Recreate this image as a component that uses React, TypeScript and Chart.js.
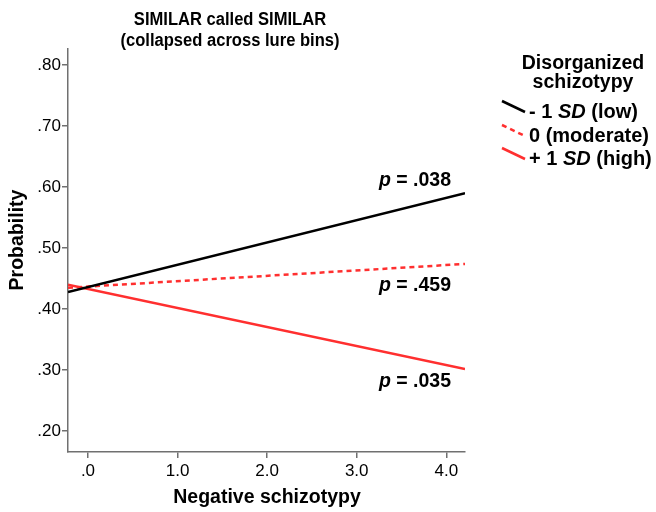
import React, { useEffect, useRef } from "react";
import { Chart, registerables } from "chart.js";

Chart.register(...registerables);

// ---- data ----
const titleLines = ["SIMILAR called SIMILAR", "(collapsed across lure bins)"];
const xAxisTitle = "Negative schizotypy";
const yAxisTitle = "Probability";
const legendTitle = ["Disorganized", "schizotypy"];

const xMin = -0.223;
const xMax = 4.209;
const yMin = 0.166;
const yMax = 0.826;

// fitted lines, evaluated at the two ends of the x axis
const xEnds = [-0.223, 4.209];
const lowSD = [0.428, 0.59];
const moderate = [0.435, 0.474];
const highSD = [0.44, 0.302];

const seriesNames = ["low", "moderate", "high"];
const pLabels = [".038", ".459", ".035"];
const pLabelX = [3.65, 3.65, 3.65];
const pLabelY = [0.61, 0.438, 0.2815];

const RED = "#ff2f2f";
const FONT = "'Liberation Sans', Arial, sans-serif";

function pts(ys: number[]) {
  return xEnds.map((x, i) => ({ x, y: ys[i] }));
}

function drawSegs(ctx: CanvasRenderingContext2D, x: number, y: number, segs: [string, boolean][], size: number) {
  let cx = x;
  for (const [t, it] of segs) {
    ctx.font = `${it ? "italic " : ""}bold ${size}px ${FONT}`;
    ctx.fillText(t, cx, y);
    cx += ctx.measureText(t).width;
  }
}

function segsWidth(ctx: CanvasRenderingContext2D, segs: [string, boolean][], size: number) {
  let w = 0;
  for (const [t, it] of segs) {
    ctx.font = `${it ? "italic " : ""}bold ${size}px ${FONT}`;
    w += ctx.measureText(t).width;
  }
  return w;
}

const overlay = {
  id: "overlay",
  afterDraw(chart: any) {
    const ctx: CanvasRenderingContext2D = chart.ctx;
    const xs = chart.scales.x;
    const ys = chart.scales.y;
    ctx.save();
    ctx.fillStyle = "#000";
    ctx.textBaseline = "middle";

    // title (slightly condensed, as in the reference)
    ctx.textAlign = "center";
    ctx.save();
    ctx.translate(230, 0);
    ctx.scale(0.92, 1);
    ctx.font = `bold 18px ${FONT}`;
    ctx.fillText(titleLines[0], 0, 20);
    ctx.fillText(titleLines[1], 0, 41);
    ctx.restore();

    // axis titles
    ctx.font = `bold 19.5px ${FONT}`;
    ctx.fillText(xAxisTitle, 267, 498);
    ctx.save();
    ctx.translate(18, 240);
    ctx.rotate(-Math.PI / 2);
    ctx.fillText(yAxisTitle, 0, 0);
    ctx.restore();

    // p labels
    ctx.textAlign = "left";
    pLabels.forEach((p, i) => {
      const segs: [string, boolean][] = [["p", true], [" = " + p, false]];
      const w = segsWidth(ctx, segs, 19.5);
      const px = xs.getPixelForValue(pLabelX[i]);
      const py = ys.getPixelForValue(pLabelY[i]);
      drawSegs(ctx, px - w / 2, py, segs, 19.5);
    });

    // legend
    ctx.textAlign = "center";
    ctx.font = `bold 19.5px ${FONT}`;
    ctx.fillText(legendTitle[0], 583, 64);
    ctx.fillText(legendTitle[1], 583, 83);

    ctx.textAlign = "left";
    const items: { segs: [string, boolean][]; color: string; dash: number[]; y: number }[] = [
      { segs: [["- 1 ", false], ["SD", true], [" (low)", false]], color: "#000", dash: [], y: 112 },
      { segs: [["0 (moderate)", false]], color: RED, dash: [5, 4], y: 136 },
      { segs: [["+ 1 ", false], ["SD", true], [" (high)", false]], color: RED, dash: [], y: 159 },
    ];
    items.forEach((it) => {
      ctx.save();
      ctx.strokeStyle = it.color;
      ctx.lineWidth = 2.5;
      ctx.setLineDash(it.dash);
      ctx.beginPath();
      ctx.moveTo(502, it.y - 11);
      ctx.lineTo(525, it.y);
      ctx.stroke();
      ctx.restore();
      drawSegs(ctx, 529, it.y, it.segs, 20);
    });
    ctx.restore();
  },
};

export default function App() {
  const ref = useRef<HTMLCanvasElement>(null);
  useEffect(() => {
    document.body.style.margin = "0";
    const chart = new Chart(ref.current!, {
      type: "scatter",
      data: {
        datasets: [
          { label: seriesNames[0], data: pts(lowSD), showLine: true, borderColor: "#000", borderWidth: 2.5, pointRadius: 0 },
          { label: seriesNames[1], data: pts(moderate), showLine: true, borderColor: RED, borderWidth: 2.5, borderDash: [5, 4], pointRadius: 0 },
          { label: seriesNames[2], data: pts(highSD), showLine: true, borderColor: RED, borderWidth: 2.5, pointRadius: 0 },
        ],
      },
      options: {
        animation: false,
        responsive: false,
        layout: { padding: { top: 49, right: 191, left: 0, bottom: 0 } },
        plugins: { legend: { display: false }, title: { display: false }, tooltip: { enabled: false } },
        scales: {
          x: {
            type: "linear",
            min: xMin,
            max: xMax,
            afterFit: (s: any) => { s.height = 60; },
            border: { color: "#707070", width: 1.5 },
            grid: { drawOnChartArea: false, tickLength: 6, color: "#707070", lineWidth: 1.5 },
            ticks: {
              stepSize: 1,
              includeBounds: false,
              color: "#000",
              padding: 3,
              maxRotation: 0,
              font: { family: FONT, size: 17 },
              callback: (v: any) => (Number(v) === 0 ? ".0" : Number(v).toFixed(1)),
            },
          },
          y: {
            type: "linear",
            min: yMin,
            max: yMax,
            afterFit: (s: any) => { s.width = 68; },
            border: { color: "#707070", width: 1.5 },
            grid: { drawOnChartArea: false, tickLength: 6, color: "#707070", lineWidth: 1.5 },
            ticks: {
              stepSize: 0.1,
              includeBounds: false,
              color: "#000",
              padding: 1,
              font: { family: FONT, size: 17 },
              callback: (v: any) => Number(v).toFixed(2).replace(/^0/, ""),
            },
          },
        },
      },
      plugins: [overlay],
    });
    return () => chart.destroy();
  }, []);
  return (
    <div style={{ width: 656, height: 512 }}>
      <canvas ref={ref} width={656} height={512} style={{ display: "block" }} />
    </div>
  );
}
